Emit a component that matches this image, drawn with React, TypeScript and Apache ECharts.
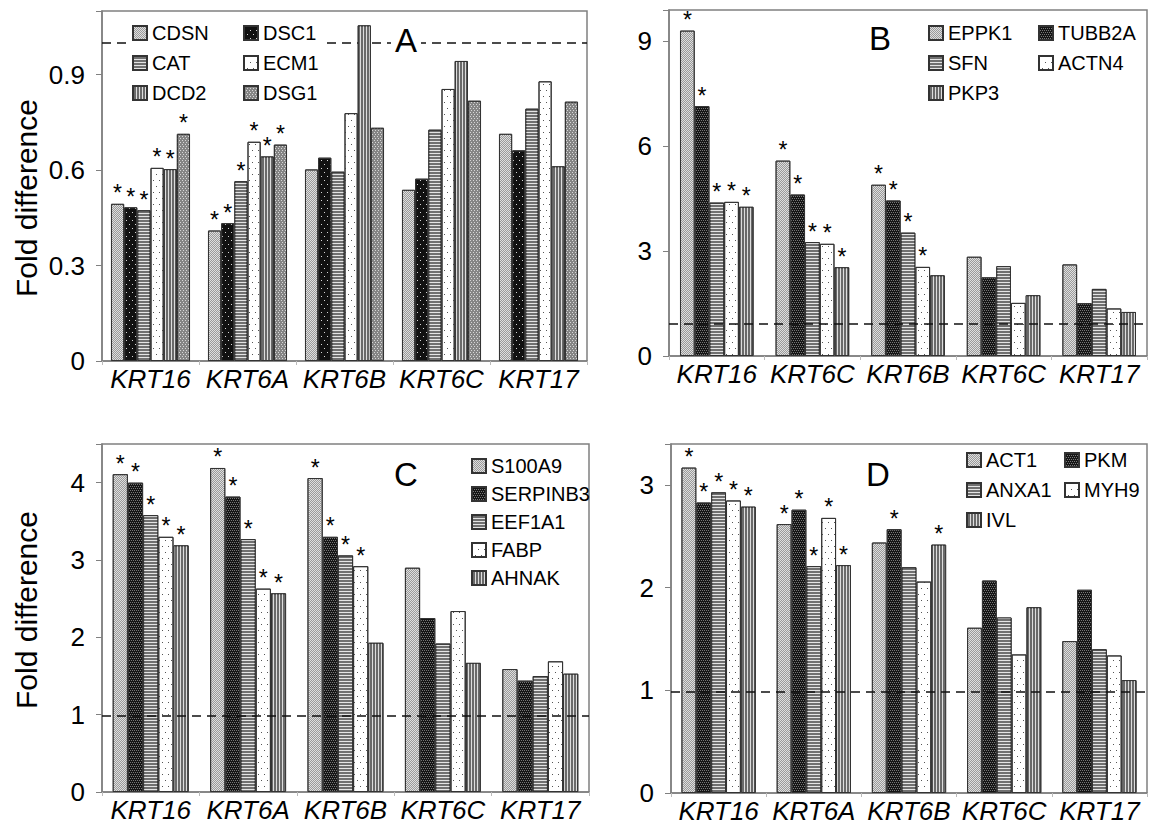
import React, { useEffect, useRef } from 'react';
import * as echarts from 'echarts';

const FONT = '"Liberation Sans", Arial, sans-serif';

// ---------- Panel A ----------
const catsA = ['KRT16', 'KRT6A', 'KRT6B', 'KRT6C', 'KRT17'];
const namesA = ['CDSN', 'DSC1', 'CAT', 'ECM1', 'DCD2', 'DSG1'];
const cdsn = [0.494, 0.41, 0.602, 0.538, 0.714];
const dsc1 = [0.483, 0.433, 0.639, 0.573, 0.662];
const cat = [0.474, 0.565, 0.595, 0.727, 0.793];
const ecm1 = [0.607, 0.689, 0.779, 0.855, 0.879];
const dcd2 = [0.603, 0.643, 1.055, 0.943, 0.612];
const dsg1 = [0.714, 0.68, 0.733, 0.818, 0.815];
const starsA = [1, 1, 0, 0, 0]; // same for every series in A
const valuesA = [cdsn, dsc1, cat, ecm1, dcd2, dsg1];
const starListA = [starsA, starsA, starsA, starsA, starsA, starsA];

// ---------- Panel B ----------
const catsB = ['KRT16', 'KRT6C', 'KRT6B', 'KRT6C', 'KRT17'];
const namesB = ['EPPK1', 'TUBB2A', 'SFN', 'ACTN4', 'PKP3'];
const eppk1 = [9.31, 5.59, 4.9, 2.84, 2.62];
const tubb2a = [7.15, 4.62, 4.45, 2.25, 1.51];
const sfn = [4.39, 3.26, 3.53, 2.57, 1.92];
const actn4 = [4.41, 3.21, 2.55, 1.52, 1.36];
const pkp3 = [4.27, 2.54, 2.31, 1.74, 1.26];
const starsB1 = [1, 1, 1, 0, 0];
const starsB2 = [1, 1, 0, 0, 0];
const valuesB = [eppk1, tubb2a, sfn, actn4, pkp3];
const starListB = [starsB1, starsB1, starsB1, starsB1, starsB2];

// ---------- Panel C ----------
const catsC = ['KRT16', 'KRT6A', 'KRT6B', 'KRT6C', 'KRT17'];
const namesC = ['S100A9', 'SERPINB3', 'EEF1A1', 'FABP', 'AHNAK'];
const s100a9 = [4.11, 4.19, 4.06, 2.9, 1.59];
const serpinb3 = [4.0, 3.82, 3.3, 2.25, 1.44];
const eef1a1 = [3.58, 3.27, 3.06, 1.92, 1.5];
const fabp = [3.3, 2.63, 2.92, 2.34, 1.69];
const ahnak = [3.19, 2.57, 1.93, 1.67, 1.53];
const starsC1 = [1, 1, 1, 0, 0];
const starsC2 = [1, 1, 0, 0, 0];
const valuesC = [s100a9, serpinb3, eef1a1, fabp, ahnak];
const starListC = [starsC1, starsC1, starsC1, starsC1, starsC2];

// ---------- Panel D ----------
const catsD = ['KRT16', 'KRT6A', 'KRT6B', 'KRT6C', 'KRT17'];
const namesD = ['ACT1', 'PKM', 'ANXA1', 'MYH9', 'IVL'];
const act1 = [3.17, 2.62, 2.44, 1.61, 1.48];
const pkm = [2.83, 2.76, 2.57, 2.07, 1.98];
const anxa1 = [2.93, 2.21, 2.2, 1.71, 1.4];
const myh9 = [2.85, 2.68, 2.06, 1.35, 1.34];
const ivl = [2.79, 2.22, 2.42, 1.81, 1.1];
const starsD1 = [1, 1, 0, 0, 0];
const starsD2 = [1, 1, 1, 0, 0];
const valuesD = [act1, pkm, anxa1, myh9, ivl];
const starListD = [starsD1, starsD2, starsD1, starsD1, starsD2];

// reference (dashed) lines
const refLines = [1.0, 0.93, 0.99, 0.99];
const yMax = [1.1, 9.9, 4.5, 3.4];
const yInterval = [0.3, 3, 1, 1];

// ---------- styles ----------
const P_LIGHT = { color: '#dedede', decal: { symbol: 'rect', symbolSize: 1, color: '#9a9a9a', dashArrayX: [[1, 1], [0, 1, 1, 0]], dashArrayY: [1, 0] } };
const P_BLACK_A = { color: '#111111', decal: { symbol: 'rect', symbolSize: 1, color: '#d8d8d8', dashArrayX: [[1, 5], [0, 3, 1, 2]], dashArrayY: [1, 3] } };
const P_BLACK = { color: '#151515', decal: { symbol: 'rect', symbolSize: 1, color: '#777777', dashArrayX: [[1, 1], [0, 1, 1, 0]], dashArrayY: [1, 1] } };
const P_HSTRIPE = { color: '#707070', decal: { symbol: 'rect', symbolSize: 1, color: '#e4e4e4', dashArrayX: [1, 0], dashArrayY: [1, 2] } };
const P_WHITE = { color: '#ffffff', decal: { symbol: 'rect', symbolSize: 1, color: '#555555', dashArrayX: [[1, 5], [0, 3, 1, 2]], dashArrayY: [1, 5] } };
const P_VSTRIPE = { color: '#6a6a6a', decal: { symbol: 'rect', symbolSize: 1, color: '#dddddd', dashArrayX: [1, 2], dashArrayY: [1, 0] } };
const P_GRAY = { color: '#858585', decal: { symbol: 'rect', symbolSize: 1, color: '#d6d6d6', dashArrayX: [[1, 2], [0, 2, 1, 0]], dashArrayY: [1, 1] } };

const patternsA = [P_LIGHT, P_BLACK_A, P_HSTRIPE, P_WHITE, P_VSTRIPE, P_GRAY];
const patternsBCD = [P_LIGHT, P_BLACK, P_HSTRIPE, P_WHITE, P_VSTRIPE];

const grids = [
  { left: 102, top: 11, width: 485, height: 350 },
  { left: 669, top: 10, width: 478, height: 346 },
  { left: 102, top: 444, width: 487, height: 348 },
  { left: 671, top: 444, width: 476, height: 349 },
];
const catGaps = ['18.5%', '23%', '22%', '22%'];

function buildSeries(p: number, names: string[], values: number[][], stars: number[][], pats: any[]) {
  return names.map((name, s) => {
    const ser: any = {
      type: 'bar',
      name,
      xAxisIndex: p,
      yAxisIndex: p,
      barGap: '0%',
      barCategoryGap: catGaps[p],
      itemStyle: { color: pats[s].color, decal: pats[s].decal, borderColor: '#333', borderWidth: 1 },
      label: { show: false, position: 'top', distance: -1, formatter: '*', fontSize: 23, color: '#000', fontFamily: FONT },
      emphasis: { disabled: true },
      data: values[s].map((v, i) => ({ value: v, label: { show: stars[s][i] === 1 } })),
    };
    if (s === 0) {
      ser.markLine = {
        silent: true,
        symbol: 'none',
        z: p === 0 ? 1 : 5,
        label: { show: false },
        lineStyle: { type: [9, 6], color: '#111', width: 1.6 },
        data: [{ yAxis: refLines[p] }],
      };
    }
    return ser;
  });
}

const legendBase: any = {
  orient: 'vertical',
  itemWidth: 14,
  itemHeight: 14,
  itemGap: 10,
  padding: 0,
  icon: 'rect',
  selectedMode: false,
  textStyle: { fontSize: 20, color: '#000', fontFamily: FONT },
};

export default function App() {
  const ref = useRef<HTMLDivElement>(null);
  useEffect(() => {
    if (!ref.current) return;
    const chart = echarts.init(ref.current, null, { renderer: 'svg' });
    const cats = [catsA, catsB, catsC, catsD];
    const xAxis = cats.map((c, i) => ({
      type: 'category',
      gridIndex: i,
      data: c,
      axisLine: { show: true, lineStyle: { color: '#808080', width: 1.5 } },
      axisTick: { show: true, length: 4, lineStyle: { color: '#bbbbbb' } },
      axisLabel: { interval: 0, margin: 5, fontSize: 26, fontStyle: 'italic', color: '#000', fontFamily: FONT },
      splitLine: { show: false },
    }));
    const yAxis = yMax.map((m, i) => ({
      type: 'value',
      gridIndex: i,
      min: 0,
      max: m,
      interval: yInterval[i],
      axisLine: { show: true, lineStyle: { color: '#808080', width: 1.5 } },
      axisTick: { show: true, length: 6, lineStyle: { color: '#808080' } },
      splitLine: { show: false },
      axisLabel: {
        margin: 17,
        fontSize: 26,
        color: '#000',
        fontFamily: FONT,
        formatter: (v: number) => {
          const k = v / yInterval[i];
          if (Math.abs(k - Math.round(k)) > 1e-6) return '';
          if (v === 0) return '0';
          return i === 0 ? v.toFixed(1) : String(Math.round(v));
        },
      },
    }));
    const series = [
      ...buildSeries(0, namesA, valuesA, starListA, patternsA),
      ...buildSeries(1, namesB, valuesB, starListB, patternsBCD),
      ...buildSeries(2, namesC, valuesC, starListC, patternsBCD),
      ...buildSeries(3, namesD, valuesD, starListD, patternsBCD),
    ];
    const legend = [
      { ...legendBase, data: ['CDSN', 'CAT', 'DCD2'], left: 128, top: 21, padding: [2, 35, 2, 4], backgroundColor: '#fff' },
      { ...legendBase, data: ['DSC1', 'ECM1', 'DSG1'], left: 243, top: 21, padding: [2, 6, 2, 0], backgroundColor: '#fff' },
      { ...legendBase, data: ['EPPK1', 'SFN', 'PKP3'], left: 928, top: 23 },
      { ...legendBase, data: ['TUBB2A', 'ACTN4'], left: 1038, top: 23 },
      { ...legendBase, data: namesC, left: 471, top: 456, itemGap: 8 },
      { ...legendBase, data: ['ACT1', 'ANXA1', 'IVL'], left: 966, top: 450 },
      { ...legendBase, data: ['PKM', 'MYH9'], left: 1064, top: 450 },
    ];
    const txt = (text: string, x: number, y: number, size: number, rot = 0, bg = false) => ({
      type: 'text',
      x,
      y,
      rotation: rot,
      z: 10,
      style: {
        text,
        fontSize: size,
        fontFamily: FONT,
        fill: '#000',
        align: 'center',
        verticalAlign: 'middle',
        backgroundColor: bg ? '#fff' : undefined,
        padding: bg ? [0, 4] : 0,
      },
    });
    chart.setOption({
      animation: false,
      backgroundColor: '#fff',
      grid: grids.map((g) => ({ ...g, show: true, borderColor: '#808080', borderWidth: 1.5, containLabel: false, outerBoundsMode: 'none' })),
      xAxis,
      yAxis,
      legend,
      series,
      graphic: [
        txt('Fold difference', 26, 198, 30, Math.PI / 2),
        txt('Fold difference', 26, 610, 30, Math.PI / 2),
        txt('A', 406, 40, 33, 0, true),
        txt('B', 880, 38, 33),
        txt('C', 406, 474, 33),
        txt('D', 878, 474, 33),
      ],
    });
    return () => chart.dispose();
  }, []);
  return <div ref={ref} style={{ position: 'absolute', left: 0, top: 0, width: 1151, height: 830, background: '#fff' }} />;
}
